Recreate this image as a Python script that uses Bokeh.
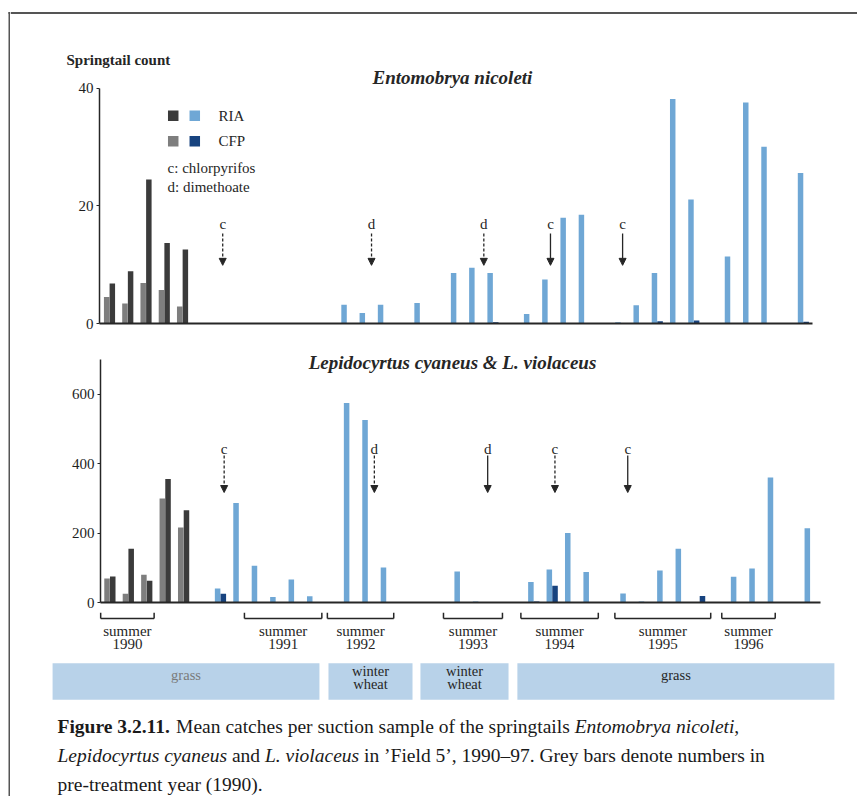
import numpy as np
from bokeh.plotting import figure
from bokeh.layouts import row, column
from bokeh.models import (Range1d, LinearAxis, FixedTicker, Arrow,
                          NormalHead, ColumnDataSource)
from bokeh.core.properties import value
from bokeh.embed import file_html
from bokeh.resources import INLINE

# ---------------------------------------------------------------------------
# Data: sampling occasions are numbered 0..38 along the time axis
# ---------------------------------------------------------------------------
pre_slots = [0, 1, 2, 3, 4]                      # 1990, pre-treatment year

# Entomobrya nicoleti (mean count per suction sample)
ento_pre_cfp = [4.5, 3.4, 6.9, 5.7, 2.9]
ento_pre_ria = [6.8, 8.9, 24.5, 13.7, 12.6]
ento_ria_slots = [13, 14, 15, 17, 19, 20, 21, 23, 24, 25, 26,
                  28, 29, 30, 31, 32, 34, 35, 36, 38]
ento_ria = [3.2, 1.8, 3.2, 3.5, 8.6, 9.5, 8.6, 1.6, 7.5, 18.0, 18.5,
            0.2, 3.1, 8.6, 38.2, 21.1, 11.4, 37.6, 30.1, 25.6]
ento_cfp_slots = [21, 30, 32, 38]
ento_cfp = [0.2, 0.4, 0.5, 0.3]

# Lepidocyrtus cyaneus & L. violaceus
lepi_pre_cfp = [69, 25, 80, 300, 216]
lepi_pre_ria = [75, 155, 63, 356, 266]
lepi_ria_slots = [6, 7, 8, 9, 10, 11, 13, 14, 15, 19, 20, 23, 24, 25, 26,
                  28, 29, 30, 31, 34, 35, 36, 38]
lepi_ria = [40, 287, 106, 16, 66, 18, 575, 526, 101, 89, 3, 59, 95, 200, 88,
            26, 3, 92, 155, 74, 98, 360, 214]
lepi_cfp_slots = [6, 23, 24, 32]
lepi_cfp = [25, 3, 48, 19]

# Insecticide applications (c: chlorpyrifos, d: dimethoate)
event_slots = [6.2, 14.35, 20.5, 24.15, 28.1]
event_codes = ["c", "d", "d", "c", "c"]

# Summer sampling periods
summer_years = ["1990", "1991", "1992", "1993", "1994", "1995", "1996"]
summer_start = [-0.5, 7.3, 11.8, 18.1, 22.3, 27.4, 33.2]
summer_end = [2.4, 11.5, 15.4, 21.3, 26.5, 32.6, 36.1]

# Crops grown in the field
crop_names = ["grass", "winter wheat", "winter wheat", "grass"]
crop_start = [-3.11, 11.86, 16.85, 22.11]
crop_end = [11.37, 16.42, 21.63, 39.31]

# ---------------------------------------------------------------------------
# Styling
# ---------------------------------------------------------------------------
SERIF = "Liberation Serif"
INK = "#262626"
RIA_BLUE = "#6fa7d5"
CFP_BLUE = "#17437f"
RIA_GREY = "#3b3b3b"
CFP_GREY = "#7e7e7e"
BAND = "#b8d2e9"
FRAME = "#555555"
W = 847
BAR_W = 0.3
HALF = 0.155


def base_figure(width, height, xr, yr, left=0, right=0, top=0, bottom=0):
    p = figure(width=width, height=height,
               x_range=Range1d(*xr), y_range=Range1d(*yr),
               x_axis_type=None, y_axis_type=None,
               output_backend="svg", toolbar_location=None,
               min_border=0, min_border_left=left, min_border_right=right,
               min_border_top=top, min_border_bottom=bottom)
    p.outline_line_color = None
    p.background_fill_color = "white"
    p.border_fill_color = "white"
    if "frame_align" in p.properties():
        p.frame_align = False
    return p


def add_axes(p, ticks, top):
    ya = LinearAxis(ticker=FixedTicker(ticks=ticks), bounds=(0, top),
                    axis_line_color=INK, axis_line_width=1.5,
                    major_tick_line_color=INK, major_tick_out=3, major_tick_in=0,
                    minor_tick_out=0, minor_tick_in=0,
                    major_label_text_font=SERIF,
                    major_label_text_font_size="15px",
                    major_label_text_color="#1e1e1e",
                    major_label_standoff=3)
    p.add_layout(ya, "left")
    xa = LinearAxis(ticker=FixedTicker(ticks=[]),
                    axis_line_color=INK, axis_line_width=2,
                    major_tick_out=0, major_tick_in=0,
                    minor_tick_out=0, minor_tick_in=0,
                    major_label_text_font_size="0px",
                    major_label_standoff=0)
    p.add_layout(xa, "below")


def draw_bars(p, pre_grey, pre_dark, ria_x, ria_y, cfp_x, cfp_y):
    pre = np.array(pre_slots, dtype=float)
    p.vbar(x=pre - HALF, top=pre_grey, width=BAR_W, bottom=0,
           fill_color=CFP_GREY, line_color=None)
    p.vbar(x=pre + HALF, top=pre_dark, width=BAR_W, bottom=0,
           fill_color=RIA_GREY, line_color=None)
    p.vbar(x=np.array(ria_x, dtype=float) - HALF, top=ria_y, width=BAR_W,
           bottom=0, fill_color=RIA_BLUE, line_color=None)
    p.vbar(x=np.array(cfp_x, dtype=float) + HALF, top=cfp_y, width=BAR_W,
           bottom=0, fill_color=CFP_BLUE, line_color=None)


def draw_events(p, y_text, y_from, y_to, dashed):
    for flag, dash in ((True, "3 2"), (False, "solid")):
        idx = [i for i, d in enumerate(dashed) if d == flag]
        if not idx:
            continue
        src = ColumnDataSource(dict(x=[event_slots[i] for i in idx],
                                    y0=[y_from] * len(idx),
                                    y1=[y_to] * len(idx)))
        p.add_layout(Arrow(end=NormalHead(size=7, fill_color=INK, line_color=INK),
                           source=src, x_start="x", y_start="y0",
                           x_end="x", y_end="y1",
                           line_color=INK, line_width=1.3, line_dash=dash))
    p.text(x=event_slots, y=[y_text] * len(event_slots), text=event_codes,
           text_font=value(SERIF), text_font_size="15px",
           text_align="center", text_baseline="middle", text_color=INK)


def title_text(p, x, y, txt):
    p.text(x=[x], y=[y], text=[txt], text_font=value(SERIF),
           text_font_size="19px", text_font_style="bold italic",
           text_color=INK, text_align="center", text_baseline="middle")


# ---------------------------------------------------------------------------
# Header: page frame line and the y-axis caption
# ---------------------------------------------------------------------------
header = base_figure(W, 68, (0, W), (68, 0))
header.segment(x0=[0], y0=[12.5], x1=[W], y1=[12.5],
               line_color=FRAME, line_width=2)
header.text(x=[56], y=[59.5], text=["Springtail count"],
            text_font=value(SERIF), text_font_size="15px",
            text_font_style="bold", text_color=INK,
            text_align="left", text_baseline="middle")

# ---------------------------------------------------------------------------
# Upper panel: Entomobrya nicoleti
# ---------------------------------------------------------------------------
p1 = base_figure(W, 277, (-0.548, 38.5), (0, 43.40),
                 left=89, right=45, top=0, bottom=22)
add_axes(p1, [0, 20, 40], 40)
draw_bars(p1, ento_pre_cfp, ento_pre_ria, ento_ria_slots, ento_ria,
          ento_cfp_slots, ento_cfp)
draw_events(p1, 16.85, 15.3, 9.9, [True, True, True, False, False])
title_text(p1, 18.78, 41.95, "Entomobrya nicoleti")

# legend: 1990 colours on the left, 1991-97 colours on the right
p1.scatter(x=[3.49, 4.67], y=[35.35, 35.35], marker="square", size=10.5,
           fill_color=[RIA_GREY, RIA_BLUE], line_color=None)
p1.scatter(x=[3.49, 4.67], y=[31.0, 31.0], marker="square", size=10.5,
           fill_color=[CFP_GREY, CFP_BLUE], line_color=None)
p1.text(x=[5.97, 5.97, 3.18, 3.18], y=[35.35, 31.0, 26.4, 23.2],
        text=["RIA", "CFP", "c:  chlorpyrifos", "d:  dimethoate"],
        text_font=value(SERIF), text_font_size="15px", text_color=INK,
        text_align="left", text_baseline="middle")

# ---------------------------------------------------------------------------
# Lower panel: Lepidocyrtus spp.
# ---------------------------------------------------------------------------
p2 = base_figure(W, 267, (-0.51, 38.56), (0, 732),
                 left=90, right=37, top=3, bottom=10)
add_axes(p2, [0, 200, 400, 600], 701)
draw_bars(p2, lepi_pre_cfp, lepi_pre_ria, lepi_ria_slots, lepi_ria,
          lepi_cfp_slots, lepi_cfp)
draw_events(p2, 443.8, 423.6, 317.0, [True, True, False, True, False])
title_text(p2, 18.59, 691.6, "Lepidocyrtus cyaneus & L. violaceus")

# ---------------------------------------------------------------------------
# Summer periods and crop bands (same time scale as the lower panel)
# ---------------------------------------------------------------------------
p3 = base_figure(W, 93, (-5.393, 40.564), (93, 0))
s0 = np.array(summer_start)
s1 = np.array(summer_end)
mid = (s0 + s1) / 2
p3.segment(x0=s0, y0=[6] * len(s0), x1=s1, y1=[6] * len(s0),
           line_color=INK, line_width=1.5)
p3.segment(x0=np.r_[s0, s1], y0=[0] * (2 * len(s0)),
           x1=np.r_[s0, s1], y1=[6] * (2 * len(s0)),
           line_color=INK, line_width=1.5)
p3.text(x=mid, y=[18] * len(mid), text=["summer"] * len(mid),
        text_font=value(SERIF), text_font_size="15px", text_color=INK,
        text_align="center", text_baseline="middle")
p3.text(x=mid, y=[31] * len(mid), text=summer_years,
        text_font=value(SERIF), text_font_size="15px", text_color=INK,
        text_align="center", text_baseline="middle")

c0 = np.array(crop_start)
c1 = np.array(crop_end)
p3.quad(left=c0, right=c1, top=[50.7] * len(c0), bottom=[87.3] * len(c0),
        fill_color=BAND, line_color=None)
cmid = (c0 + c1) / 2
crop_colors = ["#7a7a7a", INK, INK, INK]
for xm, name, col in zip(cmid, crop_names, crop_colors):
    parts = name.split(" ")
    ys = [62.5] if len(parts) == 1 else [58.0, 71.3]
    p3.text(x=[xm] * len(parts), y=ys, text=parts,
            text_font=value(SERIF), text_font_size="14.5px", text_color=col,
            text_align="center", text_baseline="middle")

# ---------------------------------------------------------------------------
# Caption
# ---------------------------------------------------------------------------
CAP = 19.5
cap_lines = [
    [("Figure 3.2.11.", "bold", 0.0),
     ("Mean catches per suction sample of the springtails", "normal", 6.083),
     ("Entomobrya nicoleti", "italic", 26.523),
     (",", "normal", 34.70)],
    [("Lepidocyrtus cyaneus", "italic", 0.0),
     ("and", "normal", 8.943),
     ("L. violaceus", "italic", 10.637),
     ("in \u2019Field 5\u2019, 1990\u201397.  Grey bars denote numbers in",
      "normal", 15.72)],
    [("pre-treatment year (1990).", "normal", 0.0)],
]
cap_y = [21, 50, 79]
p4 = base_figure(W, 91, (0, W), (91, 0))
for yl, pieces in zip(cap_y, cap_lines):
    for txt, style, em in pieces:
        p4.text(x=[47 + em * CAP], y=[yl], text=[txt],
                text_font=value(SERIF), text_font_size=f"{CAP}px",
                text_font_style=style, text_color="#1a1a1a",
                text_align="left", text_baseline="middle")

# ---------------------------------------------------------------------------
# Left page frame line
# ---------------------------------------------------------------------------
left_strip = base_figure(10, 796, (0, 10), (796, 0))
left_strip.segment(x0=[9, 8], y0=[11.5, 12.5], x1=[9, 10], y1=[796, 12.5],
                   line_color=FRAME, line_width=2)

layout = row(left_strip, column(header, p1, p2, p3, p4))

with open("out.html", "w") as f:
    f.write(file_html(layout, INLINE))
